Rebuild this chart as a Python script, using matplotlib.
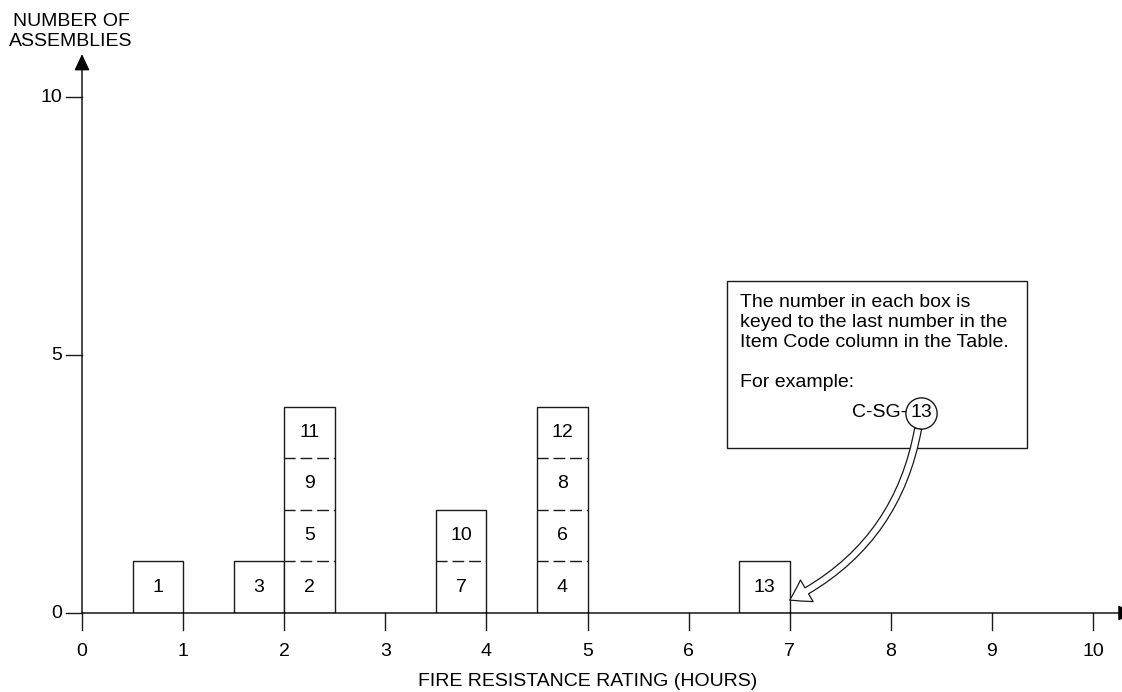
import matplotlib
matplotlib.use("Agg")
import matplotlib.pyplot as plt
from matplotlib.patches import FancyArrowPatch, Rectangle, ArrowStyle

# ---- data ----
bin_left = [0.5, 1.5, 2.0, 3.5, 4.5, 6.5]
box_items = [[1], [3], [2, 5, 9, 11], [7, 10], [4, 6, 8, 12], [13]]
x_ticks = [0, 1, 2, 3, 4, 5, 6, 7, 8, 9, 10]
y_ticks = [0, 5, 10]
note_lines = ["The number in each box is",
              "keyed to the last number in the",
              "Item Code column in the Table."]
example_label = "For example:"
example_code = "C-SG-"
example_num = "13"

W, H = 1122, 692
plt.rcParams['font.family'] = ['Liberation Sans', 'DejaVu Sans']
fig = plt.figure(figsize=(W / 100, H / 100), dpi=100)
# axes: x=0 at px 82, x=10 at px 1093 ; y=0 at px 613, y=10 at px 97 (from top)
ax = fig.add_axes([82 / W, (H - 613) / H, (1093 - 82) / W, (613 - 97) / H])
ax.set_xlim(0, 10)
ax.set_ylim(0, 10)
ax.axis('off')

LC = '#1a1a1a'
LW = 1.0
FS = 14

# bars (stacked unit boxes)
width = 0.5
totals = [len(b) for b in box_items]
ax.bar(bin_left, totals, width=width, align='edge', facecolor='white',
       edgecolor=LC, linewidth=LW, zorder=2)
for left, items in zip(bin_left, box_items):
    for i, num in enumerate(items):
        ax.text(left + width / 2, i + 0.5, str(num), ha='center', va='center',
                fontsize=FS, color='black', zorder=3)
        if i > 0:
            ax.hlines(i, left, left + width, colors=LC, linewidth=LW,
                      linestyles=(0.5, (8.5, 3.5)), zorder=3)

# axes lines with arrows
head = ArrowStyle('-|>', head_length=10, head_width=4.7)
ax.add_patch(FancyArrowPatch((0, 0), (0, 10.83), arrowstyle=head, mutation_scale=1,
                             color='black', lw=LW, shrinkA=0, shrinkB=0,
                             clip_on=False, zorder=4))
ax.add_patch(FancyArrowPatch((0, 0), (10.41, 0), arrowstyle=head, mutation_scale=1,
                             color='black', lw=LW, shrinkA=0, shrinkB=0,
                             clip_on=False, zorder=4))

# y ticks
for t in y_ticks:
    ax.plot([-0.16, 0], [t, t], color=LC, lw=LW, clip_on=False)
    ax.text(-0.2, t, str(t), ha='right', va='center', fontsize=FS)
# x ticks
for t in x_ticks:
    ax.plot([t, t], [0, -0.33], color=LC, lw=LW, clip_on=False)
    ax.text(t, -0.75, str(t), ha='center', va='center', fontsize=FS)

ax.text(5.0, -1.32, "FIRE RESISTANCE RATING (HOURS)", ha='center',
        va='center', fontsize=FS)
fig.text(71 / W, 1 - 21 / H, "NUMBER OF", ha='center', va='center', fontsize=FS)
fig.text(71 / W, 1 - 41 / H, "ASSEMBLIES", ha='center', va='center', fontsize=FS)

# note box
ax.add_patch(Rectangle((6.38, 3.2), 9.35 - 6.38, 6.43 - 3.2, facecolor='white',
                       edgecolor=LC, linewidth=LW, zorder=2))
ys = [6.01, 5.63, 5.25]
for y, s in zip(ys, note_lines):
    ax.text(6.51, y, s, ha='left', va='center', fontsize=FS, zorder=4)
ax.text(6.51, 4.47, example_label, ha='left', va='center', fontsize=FS, zorder=4)
cx, cy = 8.3, 3.88
ax.text(cx - 0.14, cy, example_code, ha='right', va='center', fontsize=FS, zorder=4)
ax.text(cx, cy, example_num, ha='center', va='center', fontsize=FS, zorder=4)
ax.plot([cx], [cy], marker='o', markersize=22.5, markerfacecolor='none',
        markeredgecolor=LC, markeredgewidth=LW, zorder=4)

arrow = FancyArrowPatch((8.27, 3.57), (7.0, 0.25),
                        connectionstyle='arc3,rad=-0.25',
                        arrowstyle=ArrowStyle.Simple(head_length=14, head_width=18,
                                                     tail_width=5),
                        mutation_scale=1, facecolor='white', edgecolor=LC,
                        linewidth=0.9, shrinkA=0, shrinkB=0, zorder=5)
ax.add_patch(arrow)

fig.savefig('out.png', dpi=100)
